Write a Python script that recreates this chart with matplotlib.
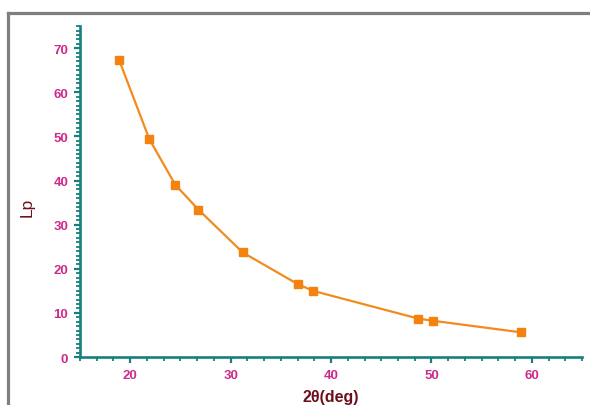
import matplotlib.pyplot as plt
from matplotlib.ticker import MultipleLocator
from matplotlib.lines import Line2D

# data
two_theta = [18.9, 21.9, 24.5, 26.8, 31.2, 36.7, 38.2, 48.7, 50.2, 58.9]
lp = [67.3, 49.4, 39.0, 33.4, 23.7, 16.5, 15.0, 8.7, 8.2, 5.6]

x_label = '2θ(deg)'
y_label = 'Lp'

AXIS_COL = '#17807c'
TICK_COL = '#cc2a8c'
LABEL_COL = '#6e0f1c'
LINE_COL = '#f28b1e'

plt.rcParams['font.family'] = ['Liberation Sans', 'DejaVu Sans']

fig = plt.figure(figsize=(5.9, 4.06), dpi=100)
ax = fig.add_axes([0.1356, 0.1182, 0.851, 0.815])

ax.plot(two_theta, lp, color=LINE_COL, lw=1.6, marker='s', ms=6.2,
        mfc='#f5820f', mec='#f5820f', clip_on=False)

ax.set_xlim(15, 65)
ax.set_ylim(0, 75)
ax.xaxis.set_minor_locator(MultipleLocator(10 / 6))
ax.yaxis.set_minor_locator(MultipleLocator(1))
ax.set_xticks([20, 30, 40, 50, 60])
ax.set_yticks([0, 10, 20, 30, 40, 50, 60, 70])

for s in ['top', 'right']:
    ax.spines[s].set_visible(False)
for s in ['left', 'bottom']:
    ax.spines[s].set_color(AXIS_COL)
    ax.spines[s].set_linewidth(1.9)

ax.tick_params(which='major', direction='out', length=4.5, width=1.6,
               color=AXIS_COL, labelcolor=TICK_COL, labelsize=9.5, pad=4)
ax.tick_params(which='minor', direction='out', length=2.8, width=1.3,
               color=AXIS_COL)
for lab in ax.get_xticklabels() + ax.get_yticklabels():
    lab.set_fontweight('bold')

fig.text(0.046, 0.49, y_label, rotation=90, color=LABEL_COL,
         fontsize=12.5, ha='center', va='center')
fig.text(0.56, 0.002, x_label, color=LABEL_COL, fontsize=11.5,
         fontweight='bold', ha='center', va='bottom')

# grey frame around the picture
frame_col = '#7f7f7f'
fig.add_artist(Line2D([7.5 / 590, 1.0], [1 - 13.5 / 406] * 2,
                      transform=fig.transFigure, color=frame_col, lw=2.3))
fig.add_artist(Line2D([7.5 / 590] * 2, [0.0, 1 - 13.5 / 406],
                      transform=fig.transFigure, color=frame_col, lw=2.3))

fig.savefig('out.png', dpi=100)
